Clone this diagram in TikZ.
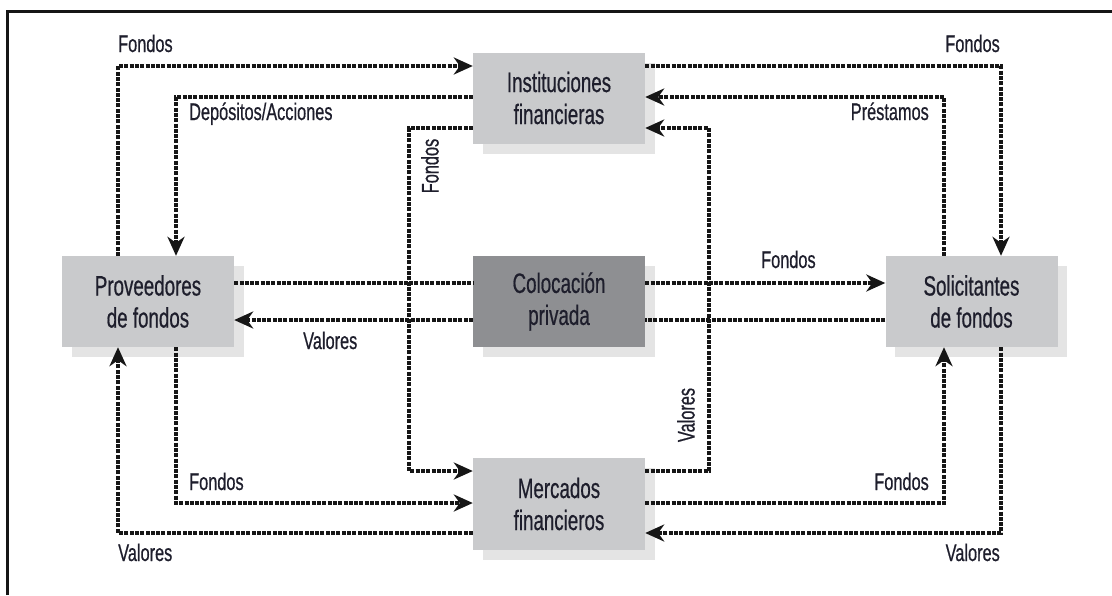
\documentclass[tikz,border=0pt]{standalone}
\usepackage{fontspec}
\setmainfont{Liberation Sans}
\newfontfamily\boxfont{Liberation Sans}[FakeStretch=0.67,FakeBold=0.6]
\newfontfamily\lblfont{Liberation Sans}[FakeStretch=0.68,FakeBold=0.6]
\usetikzlibrary{arrows.meta,shadows}
\definecolor{boxgray}{HTML}{C9CACC}
\definecolor{darkbox}{HTML}{8E8F92}
\definecolor{shadowgray}{HTML}{E4E4E4}
\definecolor{inkcol}{HTML}{1E1E2C}
\definecolor{linecol}{HTML}{161616}
\begin{document}
\begin{tikzpicture}[x=1pt,y=-1pt,
  box/.style={fill=boxgray, draw=none, minimum width=172pt, minimum height=91pt, inner sep=0pt,
    align=center, text=inkcol, font=\boxfont\fontsize{28}{32}\selectfont,
    drop shadow={shadow xshift=9.5pt, shadow yshift=-10pt, fill=shadowgray, opacity=1}},
  darkboxst/.style={box, fill=darkbox},
  flow/.style={draw=linecol, line width=4.2pt, dash pattern=on 4pt off 1.3pt, line join=miter},
  flowarrow/.style={flow, -{Stealth[length=19pt,width=17pt,inset=6pt]}},
  lbl/.style={text=inkcol, inner sep=0pt, font=\lblfont\fontsize{24}{26}\selectfont}
]
\useasboundingbox (0,0) rectangle (1112,595);
% frame
\draw[line width=3pt, draw=linecol] (7,595) -- (7,11.5) -- (1112,11.5);

% boxes
\node[box] (inst) at (559,98) {Instituciones\\financieras};
\node[box] (prov) at (148,301.5) {Proveedores\\de fondos};
\node[darkboxst] (coloc) at (559,301.5) {Colocación\\privada};
\node[box] (sol) at (971.5,301.5) {Solicitantes\\de fondos};
\node[box, minimum height=92pt] (merc) at (559,504) {Mercados\\financieros};

% routing levels
\coordinate (ta) at (0,66);
\coordinate (tb) at (0,97);
\coordinate (tc) at (0,128);
\coordinate (ra) at (0,283);
\coordinate (rb) at (0,320);
\coordinate (ba) at (0,471);
\coordinate (bb) at (0,503);
\coordinate (bc) at (0,533);
\coordinate (xa) at (118,0);
\coordinate (xb) at (176,0);
\coordinate (xc) at (409,0);
\coordinate (xd) at (709,0);
\coordinate (xe) at (944,0);
\coordinate (xf) at (1001,0);

% left side
\draw[flowarrow] (prov.north -| xa) -- (xa |- ta) -- (inst.west |- ta);
\draw[flowarrow] (inst.west |- tb) -- (xb |- tb) -- (prov.north -| xb);
\draw[flowarrow] (inst.west |- tc) -- (xc |- tc) -- (xc |- ba) -- (merc.west |- ba);
\draw[flow] (prov.east |- ra) -- (coloc.west |- ra);
\draw[flowarrow] (coloc.west |- rb) -- (prov.east |- rb);
\draw[flowarrow] (prov.south -| xb) -- (xb |- bb) -- (merc.west |- bb);
\draw[flowarrow] (merc.west |- bc) -- (xa |- bc) -- (prov.south -| xa);

% right side
\draw[flowarrow] (inst.east |- ta) -- (xf |- ta) -- (sol.north -| xf);
\draw[flowarrow] (sol.north -| xe) -- (xe |- tb) -- (inst.east |- tb);
\draw[flowarrow] (merc.east |- ba) -- (xd |- ba) -- (xd |- tc) -- (inst.east |- tc);
\draw[flowarrow] (coloc.east |- ra) -- (sol.west |- ra);
\draw[flow] (sol.west |- rb) -- (coloc.east |- rb);
\draw[flowarrow] (merc.east |- bb) -- (xe |- bb) -- (sol.south -| xe);
\draw[flowarrow] (sol.south -| xf) -- (xf |- bc) -- (merc.east |- bc);

% labels
\node[lbl, anchor=base west] (l1) at (118,52) {Fondos};
\node[lbl, anchor=base west] (l2) at (189,120) {Depósitos/Acciones};
\node[lbl, rotate=90] (l3) at (430,166) {Fondos};
\node[lbl, anchor=base east] (l4) at (1000,52) {Fondos};
\node[lbl, anchor=base east] (l5) at (929,120) {Préstamos};
\node[lbl, anchor=base west] (l6) at (761,268) {Fondos};
\node[lbl, anchor=base west] (l7) at (303,349) {Valores};
\node[lbl, rotate=90] (l8) at (686,415) {Valores};
\node[lbl, anchor=base west] (l9) at (189,490) {Fondos};
\node[lbl, anchor=base west] (l10) at (118,561) {Valores};
\node[lbl, anchor=base east] (l11) at (929,490) {Fondos};
\node[lbl, anchor=base east] (l12) at (1000,561) {Valores};
\end{tikzpicture}
\end{document}
